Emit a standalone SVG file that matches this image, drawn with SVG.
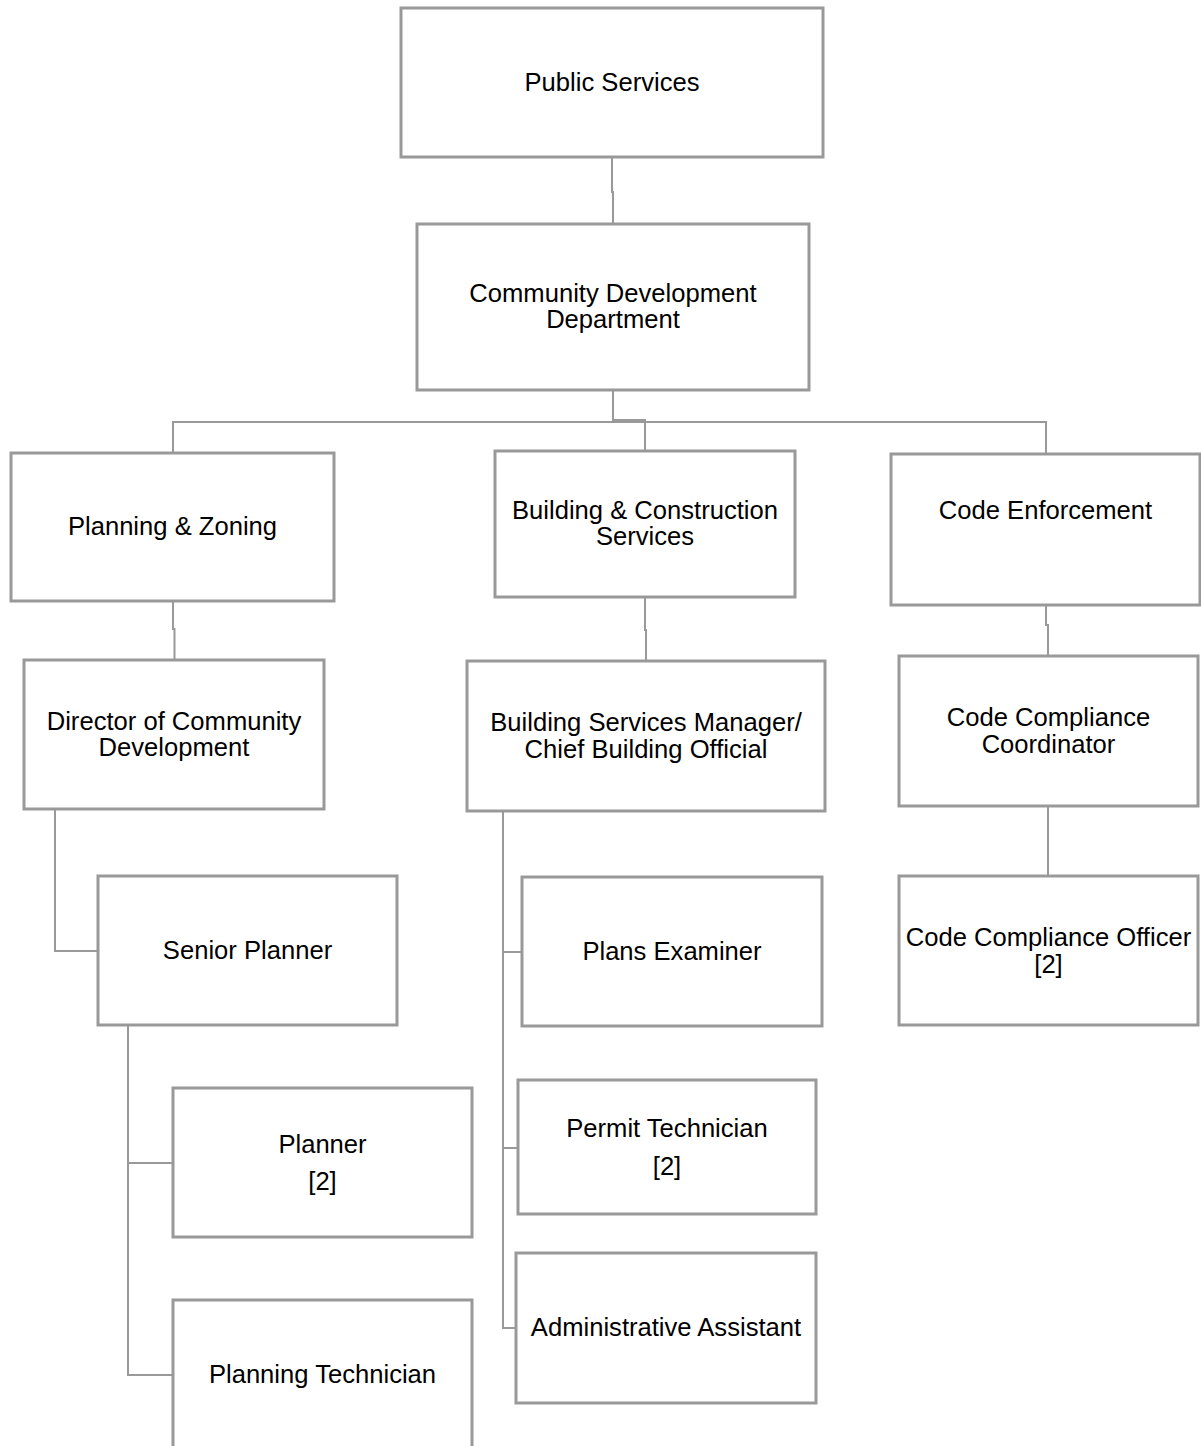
<svg xmlns="http://www.w3.org/2000/svg" width="1201" height="1446" viewBox="0 0 1201 1446">
<style>
.box{fill:#fff;stroke:#999;stroke-width:3}
.t{font-family:"Liberation Sans",Arial,sans-serif;font-size:25.6px;fill:#000;text-anchor:middle}
.c{fill:none;stroke:#999;stroke-width:2}
</style>
<rect width="1201" height="1446" fill="#fff"/>
<g id="connectors">
<path class="c" d="M612,158 V192 H613 V224"/>
<path class="c" d="M613,390 V422 M173,453 V422 H1046 V454 M613,420 H645 V451"/>
<path class="c" d="M173,601 V629 H174.5 V660"/>
<path class="c" d="M645,597 V630 H646 V661"/>
<path class="c" d="M1046,605 V625 H1048 V656"/>
<path class="c" d="M1048,806 V876"/>
<path class="c" d="M55,809 V951 H98"/>
<path class="c" d="M128,1025 V1375 H173 M128,1163 H173"/>
<path class="c" d="M503,811 V1328 H516 M503,952 H522 M503,1148 H518"/>
</g>
<g id="public-services"><rect class="box" x="401" y="8" width="422" height="149"/><text class="t" x="612" y="91">Public Services</text></g>
<g id="community-development"><rect class="box" x="417" y="224" width="392" height="166"/><text class="t" x="613" y="302">Community Development</text><text class="t" x="613" y="328">Department</text></g>
<g id="planning-zoning"><rect class="box" x="11" y="453" width="323" height="148"/><text class="t" x="172.5" y="535">Planning &amp; Zoning</text></g>
<g id="building-construction"><rect class="box" x="495" y="451" width="300" height="146"/><text class="t" x="645" y="519">Building &amp; Construction</text><text class="t" x="645" y="545">Services</text></g>
<g id="code-enforcement"><rect class="box" x="891" y="454" width="309" height="151"/><text class="t" x="1045.5" y="519">Code Enforcement</text></g>
<g id="director"><rect class="box" x="24" y="660" width="300" height="149"/><text class="t" x="174" y="730">Director of Community</text><text class="t" x="174" y="756">Development</text></g>
<g id="bsm"><rect class="box" x="467" y="661" width="358" height="150"/><text class="t" x="646" y="731">Building Services Manager/</text><text class="t" x="646" y="758">Chief Building Official</text></g>
<g id="ccc"><rect class="box" x="899" y="656" width="299" height="150"/><text class="t" x="1048.5" y="726">Code Compliance</text><text class="t" x="1048.5" y="753">Coordinator</text></g>
<g id="cco"><rect class="box" x="899" y="876" width="299" height="149"/><text class="t" x="1048.5" y="946">Code Compliance Officer</text><text class="t" x="1048.5" y="973">[2]</text></g>
<g id="senior-planner"><rect class="box" x="98" y="876" width="299" height="149"/><text class="t" x="247.5" y="959">Senior Planner</text></g>
<g id="planner"><rect class="box" x="173" y="1088" width="299" height="149"/><text class="t" x="322.5" y="1153">Planner</text><text class="t" x="322.5" y="1190">[2]</text></g>
<g id="planning-technician"><rect class="box" x="173" y="1300" width="299" height="160"/><text class="t" x="322.5" y="1383">Planning Technician</text></g>
<g id="plans-examiner"><rect class="box" x="522" y="877" width="300" height="149"/><text class="t" x="672" y="960">Plans Examiner</text></g>
<g id="permit-technician"><rect class="box" x="518" y="1080" width="298" height="134"/><text class="t" x="667" y="1137">Permit Technician</text><text class="t" x="667" y="1175">[2]</text></g>
<g id="admin-assistant"><rect class="box" x="516" y="1253" width="300" height="150"/><text class="t" x="666" y="1336">Administrative Assistant</text></g>
</svg>
